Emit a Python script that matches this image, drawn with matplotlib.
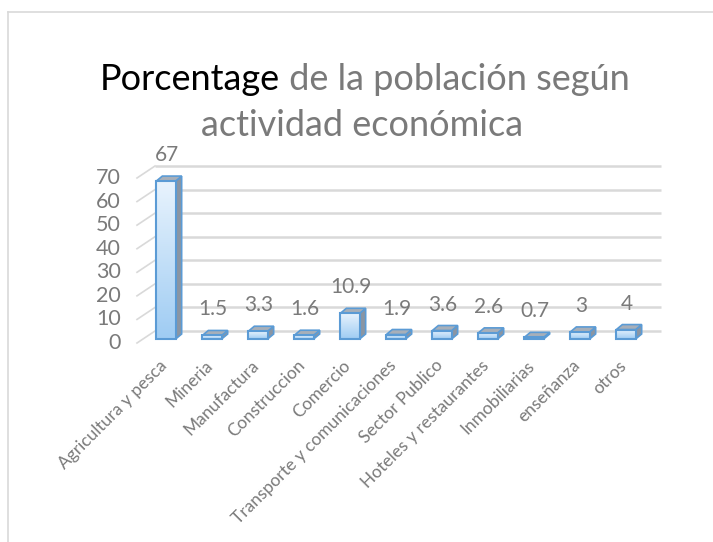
import numpy as np
import matplotlib
matplotlib.use('Agg')
import matplotlib.pyplot as plt
from matplotlib.colors import LinearSegmentedColormap
from matplotlib.patches import Polygon, Rectangle
from matplotlib.transforms import offset_copy
from matplotlib.lines import Line2D

plt.rcParams['font.family'] = ['Lato', 'DejaVu Sans']

# data
categories = ['Agricultura y pesca', 'Mineria', 'Manufactura', 'Construccion', 'Comercio',
              'Transporte y comunicaciones', 'Sector Publico', 'Hoteles y restaurantes',
              'Inmobiliarias', 'enseñanza', 'otros']
values = [67, 1.5, 3.3, 1.6, 10.9, 1.9, 3.6, 2.6, 0.7, 3, 4]
value_labels = ['67', '1.5', '3.3', '1.6', '10.9', '1.9', '3.6', '2.6', '0.7', '3', '4']
y_ticks = [0, 10, 20, 30, 40, 50, 60, 70]

text_gray = '#7a7a7a'
grid_gray = '#d9d9d9'
edge_blue = '#5b9bd5'

W, H = 713, 542
fig = plt.figure(figsize=(W / 100, H / 100), dpi=100)

# outer chart border (top + left visible)
fig.add_artist(Line2D([8 / W, 1], [1 - 12 / H, 1 - 12 / H], color=grid_gray, lw=1.2))
fig.add_artist(Line2D([8 / W, 8 / W], [0, 1 - 12 / H], color=grid_gray, lw=1.2))

# axes = plane of the bar fronts
ax = fig.add_axes([143 / W, (H - 339) / H, 506 / W, 165 / H])
ax.set_xlim(-0.5, len(categories) - 0.5)
ax.set_ylim(0, 70)
ax.axis('off')

# pixels per data unit
p0 = ax.transData.transform((0, 0))
p1 = ax.transData.transform((1, 1))
ppx, ppy = p1 - p0

def shifted(dx, dy):
    return offset_copy(ax.transData, fig=fig, x=dx, y=dy, units='dots')

front = shifted(-6, -4)
back = shifted(12, 8)
x_left, x_right = -0.5, len(categories) - 0.5

# back wall grid lines + left wall diagonals
for t in y_ticks:
    ax.plot([x_left, x_right], [t, t], color=grid_gray, lw=1.8, transform=back,
            clip_on=False, zorder=1, solid_capstyle='butt')
    a = front.transform((x_left, t))
    b = back.transform((x_left, t))
    ax.plot([a[0], b[0]], [a[1], b[1]], color=grid_gray, lw=1.2, transform=None,
            clip_on=False, zorder=1)
    ax.text(x_left, t, str(t), transform=shifted(-22, -4), ha='right', va='center',
            fontsize=15.5, color=text_gray, clip_on=False)

# bars with a simple 3d look
cmap = LinearSegmentedColormap.from_list('bar', ['#9fccf3', '#e8f3fd'])
grad = np.linspace(0, 1, 100).reshape(-1, 1)
bw = 0.42
ddx, ddy = 6 / ppx, 5 / ppy
for i, v in enumerate(values):
    x0, x1 = i - bw / 2, i + bw / 2
    # side face
    side = Polygon([(x1, 0), (x1 + ddx, ddy), (x1 + ddx, v + ddy), (x1, v)], closed=True,
                   facecolor='#8a95a3', edgecolor=edge_blue, lw=1.2, zorder=3, clip_on=False)
    ax.add_patch(side)
    # top face
    top = Polygon([(x0, v), (x1, v), (x1 + ddx, v + ddy), (x0 + ddx, v + ddy)], closed=True,
                  facecolor='#a7afb9', edgecolor=edge_blue, lw=1.2, zorder=3, clip_on=False)
    ax.add_patch(top)
    # front face with gradient
    rect = Rectangle((x0, 0), bw, v, facecolor='none', edgecolor=edge_blue, lw=1.5,
                     zorder=5, clip_on=False)
    im = ax.imshow(grad, cmap=cmap, extent=[x0, x1, 0, v], origin='lower', aspect='auto',
                   zorder=4, interpolation='bilinear')
    ax.add_patch(rect)
    im.set_clip_path(rect)
    ax.annotate(value_labels[i], (i, v), xytext=(1, 16), textcoords='offset pixels',
                ha='center', va='bottom', fontsize=15, color=text_gray,
                annotation_clip=False)

ax.set_xlim(-0.5, len(categories) - 0.5)
ax.set_ylim(0, 70)

# category labels
for i, c in enumerate(categories):
    ax.text(i, 0, c, transform=shifted(-2, -24), rotation=45, rotation_mode='anchor',
            ha='right', va='center', fontsize=12.5, color=text_gray, clip_on=False)

# two-tone title
r = fig.canvas.get_renderer()
t1 = fig.text(0, 0, 'Porcentage', fontsize=26, color='black', va='baseline', ha='left')
t2 = fig.text(0, 0, ' de la población según', fontsize=26, color=text_gray,
              va='baseline', ha='left')
w1 = t1.get_window_extent(r).width
w2 = t2.get_window_extent(r).width
start = 365 - (w1 + w2) / 2
base1 = (H - 90) / H
t1.set_position((start / W, base1))
t2.set_position(((start + w1) / W, base1))
fig.text(362 / W, (H - 136) / H, 'actividad económica', fontsize=26, color=text_gray,
         va='baseline', ha='center')

fig.savefig('out.png', dpi=100)
